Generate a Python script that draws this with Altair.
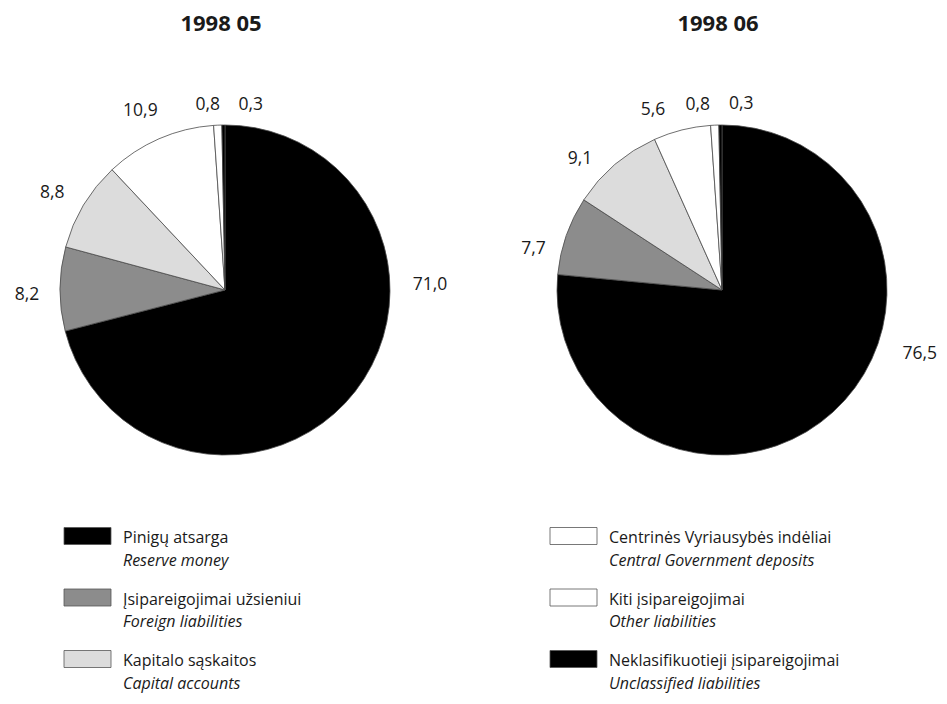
import altair as alt
import pandas as pd

# ---------------- data ----------------
months = ["1998 05", "1998 06"]
categories_lt = [
    "Pinigų atsarga",
    "Įsipareigojimai užsieniui",
    "Kapitalo sąskaitos",
    "Centrinės Vyriausybės indėliai",
    "Kiti įsipareigojimai",
    "Neklasifikuotieji įsipareigojimai",
]
categories_en = [
    "Reserve money",
    "Foreign liabilities",
    "Capital accounts",
    "Central Government deposits",
    "Other liabilities",
    "Unclassified liabilities",
]
values_1998_05 = [71.0, 8.2, 8.8, 10.9, 0.8, 0.3]
values_1998_06 = [76.5, 7.7, 9.1, 5.6, 0.8, 0.3]

# ---------------- styles ----------------
fills = ["#000000", "#8c8c8c", "#dcdcdc", "#ffffff", "#ffffff", "#000000"]
FONT = "Open Sans"
TXT = "#1a1a1a"

rows = []
for m, vals in zip(months, [values_1998_05, values_1998_06]):
    for i, (c, v) in enumerate(zip(categories_lt, vals)):
        rows.append({"month": m, "i": i, "category": c, "value": v})
pie_df = pd.DataFrame(rows)

legend_df = pd.DataFrame({"i": list(range(len(categories_lt))),
                          "category": categories_lt,
                          "lt": categories_lt,
                          "en": categories_en})

xm = alt.X("month:N", axis=None,
           scale=alt.Scale(type="point", domain=months, range=[217, 714], padding=0))
theta_scale = alt.Scale(domain=[0, 100], range=[0, 6.283185307179586])
color = alt.Color("category:N", legend=None,
                  scale=alt.Scale(domain=categories_lt, range=fills))

pie_base = alt.Chart(pie_df).transform_window(
    cum="sum(value)", groupby=["month"], sort=[alt.SortField("i")], frame=[None, 0]
).transform_calculate(
    start="datum.cum - datum.value",
    mid="datum.cum - datum.value / 2",
    label="replace(format(datum.value, '.1f'), '.', ',')",
)

arcs = pie_base.mark_arc(radius=165, stroke="#4a4a4a", strokeWidth=0.8).encode(
    x=xm,
    y=alt.value(282),
    theta=alt.Theta("start:Q", scale=theta_scale, stack=None),
    theta2="cum:Q",
    color=color,
)

# label placement per pie: (slice indices, radius, angular offset from slice middle)
placement = {
    "1998 05": [([1, 2, 3], 198, -0.03), ([4], 186, -0.049), ([5], 187, 0.148), ([0], 205, -0.684)],
    "1998 06": [([1, 2, 3], 193, -0.12), ([4], 187, -0.086), ([5], 187, 0.112), ([0], 208, -0.518)],
}
label_layers = []
for m, specs in placement.items():
    for idx, r, off in specs:
        flt = f"datum.month === '{m}' && indexof({idx}, datum.i) >= 0"
        label_layers.append(
            pie_base.transform_filter(flt).mark_text(
                radius=r, thetaOffset=off, font=FONT, fontSize=17.5, color=TXT,
                align="center", baseline="middle",
            ).encode(
                x=xm,
                y=alt.value(282),
                theta=alt.Theta("mid:Q", scale=theta_scale, stack=None),
                text="label:N",
            )
        )

titles = alt.Chart(pd.DataFrame({"month": months})).mark_text(
    font=FONT, fontSize=22, fontWeight="bold", color=TXT, dx=-4, baseline="middle"
).encode(x=xm, y=alt.value(16), text="month:N")

# ---------------- legend ----------------
leg_base = alt.Chart(legend_df).transform_calculate(
    col="floor(datum.i / 3)", row="datum.i % 3"
)
lx = alt.X("col:Q", axis=None, scale=alt.Scale(domain=[0, 1], range=[79.5, 565.5]))
ly = alt.Y("row:Q", axis=None, scale=alt.Scale(domain=[0, 2], range=[528, 651]))

swatches = leg_base.mark_rect(width=47, height=17, stroke="#555555", strokeWidth=0.8).encode(
    x=lx, y=ly, color=color
)
line1 = leg_base.mark_text(
    font=FONT, fontSize=16, color=TXT, align="left", baseline="middle", dx=35.5, dy=2
).encode(x=lx, y=ly, text="lt:N")
line2 = leg_base.mark_text(
    font=FONT, fontSize=16, fontStyle="italic", color=TXT, align="left",
    baseline="middle", dx=35.5, dy=24.5
).encode(x=lx, y=ly, text="en:N")

chart = alt.layer(
    arcs, *label_layers, titles, swatches, line1, line2
).resolve_scale(
    x="independent", y="independent"
).properties(
    width=931, height=688, padding=0,
    autosize=alt.AutoSizeParams(type="none"),
).configure_view(stroke=None)

chart.save("out.html", embed_options={"renderer": "svg", "actions": False})
